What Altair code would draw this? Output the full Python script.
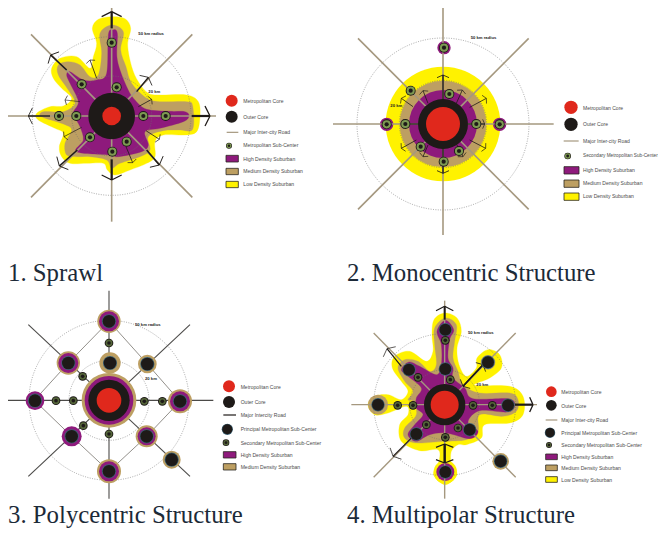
import math
import altair as alt
import pandas as pd

# All geometry in 3x crop units, one origin per panel
ORIG = {1: (0, 0), 2: (333, 0), 3: (0, 268), 4: (333, 268)}
ROAD = "#a5987f"; DARK = "#1e1a18"; RED = "#e0281c"; PURPLE = "#8e1a7c"; TAN = "#bd9f62"; YEL = "#fff200"
GREEN = "#7d9a52"; OLIVE = "#55663a"; GREYROAD = "#4b4a48"; BLUE = "#3d6478"

blob_yellow_1 = [(295,58),(335,50),(375,56),(392,85),(383,135),(395,200),(415,245),(445,280),(480,285),(560,285),(595,305),(600,350),(590,395),(555,405),(490,405),(465,425),(465,470),(440,490),(390,510),(345,525),(322,510),(310,490),(260,490),(210,490),(185,470),(178,440),(190,400),(165,385),(115,360),(110,340),(150,320),(190,318),(215,295),(185,265),(160,235),(155,205),(180,175),(230,170),(270,205),(280,170),(290,130),(277,85)]
blob_tan_1 = [(300,100),(335,75),(370,95),(362,150),(378,200),(395,250),(440,295),(480,305),(560,305),(578,318),(578,388),(540,390),(490,392),(445,410),(450,450),(420,470),(360,490),(335,505),(320,480),(270,470),(230,470),(200,465),(195,430),(215,390),(190,372),(125,350),(130,335),(190,335),(225,310),(205,270),(175,225),(175,195),(205,185),(240,195),(270,230),(295,225),(305,160)]
blob_purple_1 = [(325,105),(338,90),(352,100),(352,180),(380,260),(405,300),(440,328),(510,334),(555,335),(567,348),(550,365),(480,385),(435,395),(445,435),(425,455),(355,470),(330,465),(230,455),(250,420),(240,380),(220,340),(235,305),(210,250),(200,225),(210,215),(250,240),(290,240),(320,220)]
blob_yellow_4 = [(335,135),(372,150),(385,190),(372,240),(378,290),(400,325),(430,300),(432,270),(465,245),(500,260),(505,300),(470,330),(425,352),(530,355),(570,385),(570,440),(530,465),(455,470),(445,510),(400,530),(375,530),(355,550),(355,590),(372,620),(337,650),(302,620),(318,580),(315,545),(260,548),(205,520),(200,470),(225,440),(220,415),(165,435),(125,440),(105,410),(125,385),(165,380),(205,395),(225,370),(205,340),(178,300),(185,265),(230,250),(280,280),(300,250),(297,200),(303,155)]
blob_tan_4 = [(337,150),(370,170),(365,220),(360,270),(375,310),(390,350),(440,375),(530,375),(555,395),(550,430),(510,445),(440,440),(435,490),(400,515),(330,520),(250,525),(215,510),(215,480),(250,440),(240,400),(225,395),(240,370),(215,340),(195,300),(215,275),(255,280),(290,310),(310,290),(305,230),(305,180)]
blob_purple_4 = [(337,157),(362,185),(350,215),(345,270),(360,300),(360,330),(395,360),(420,392),(525,392),(545,410),(525,432),(440,428),(405,462),(435,490),(410,512),(340,495),(290,500),(250,520),(225,500),(245,470),(270,440),(250,420),(250,390),(265,360),(225,325),(205,305),(228,282),(260,295),(310,320),(325,290),(325,230),(312,190)]

# panel, x, y, diameter (crop units), colour: discs beneath the roads
under_discs = [
 (2,330,372,344,YEL),(2,330,372,260,TAN),(2,330,372,204,PURPLE),
 (2,333,143,40,PURPLE),(2,161,373,40,PURPLE),(2,500,373,40,PURPLE),
 (4,135,410,60,TAN),(4,465,283,44,TAN),(4,503,580,50,TAN),(4,337,612,70,YEL),(4,337,612,54,PURPLE),
]

roads_1 = [(335,20,335,665),(20,348,648,348),(93,103,577,592),(577,103,93,592)]
roads_2 = [(330,20,330,705),(0,372,662,372),(75,115,587,628),(587,115,75,628)]
roads_3 = [(327,68,327,692),(13,397,640,397),(85,170,570,625),(570,170,85,625)]
roads_4 = [(335,98,335,692),(55,410,612,410),(122,195,548,628),(548,195,122,628)]
links_3 = [(327,160,205,285),(205,285,103,397),(103,397,215,505),(215,505,327,610),(327,610,440,505),(440,505,540,400),(540,400,442,288),(442,288,327,160)]

# panel, cx, cy, diameter
rings = [(1,335,348,476),(1,335,348,240),(2,330,372,516),(2,330,372,262),(3,327,397,480),(3,327,397,240),(4,335,410,426),(4,335,410,210)]

# panel, x1, y1, x2, y2, shaft width px, head half width, head back
arrows = [
 (1,335,85,335,35,2.2,30,15),(1,575,348,630,348,2.2,30,15),(1,150,348,85,348,1.4,24,12),(1,335,478,335,540,2.2,30,15),
 (1,200,210,152,165,1.6,24,12),(1,232,450,178,498,1.6,26,13),(1,440,450,478,495,1.6,26,13),(1,410,275,445,232,1.4,24,12),
 (1,290,235,270,180,.8,14,6),(1,240,305,195,300,.6,14,6),(1,415,320,455,298,.8,14,6),(1,245,382,192,410,.7,14,6),(1,438,392,478,418,.8,14,6),(1,378,440,398,488,.8,14,6),
 (2,330,300,330,225,1.4,18,8),(2,405,372,455,372,1.2,14,6),(2,330,445,330,520,1.4,18,8),(2,275,372,205,372,1.2,14,6),
 (2,240,320,205,295,.8,14,7),(2,285,310,270,272,.8,14,7),(2,370,310,388,270,.8,14,7),(2,410,322,460,295,.8,14,7),(2,410,420,458,445,.8,14,7),(2,250,420,205,445,.8,14,7),(2,285,435,270,470,.8,14,7),(2,372,435,390,470,.8,14,7),
 (4,335,155,335,115,2,26,13),(4,390,355,450,290,1.4,20,10),(4,450,290,390,355,1.4,20,10),(4,545,410,600,410,2.2,22,10),(4,240,505,180,565,1.2,24,12),(4,335,585,335,528,2,26,10),(4,335,528,335,585,2,26,10),(4,205,295,162,242,1.2,24,12),
]

core_1 = [(335,348,140,DARK),(335,348,56,RED)]
sub_1 = [(335,128),(350,262),(245,253),(177,348),(229,348),(430,348),(497,348),(270,412),(337,455),(380,425)]
core_2 = [(330,372,150,DARK),(330,372,102,RED)]
sub_2 = [(333,143),(161,373),(500,373),(233,272),(349,282),(217,372),(430,372),(263,440),(378,453),(332,485)]
core_3 = [(327,397,164,TAN),(327,397,146,PURPLE),(327,397,124,DARK),(327,397,74,RED)]
# x, y, tan diameter, purple diameter (0 = none)
prin_3 = [(327,160,70,60),(205,285,70,60),(105,398,0,56),(215,505,0,60),(327,610,72,60),(440,505,66,54),(540,400,72,60),(330,285,64,0),(442,288,56,0),(515,575,54,0)]
sec_3 = [(327,225),(248,325),(168,398),(220,398),(433,400),(487,400),(250,473),(327,498)]
core_4 = [(335,410,124,DARK),(335,410,84,RED)]
prin_4 = [(337,185),(228,305),(337,303),(135,410),(525,412),(250,498),(410,485),(337,612),(465,283),(503,580)]
sec_4 = [(337,217),(255,328),(352,335),(194,412),(240,412),(420,412),(478,412),(280,470),(375,480),(337,508)]

leg_disc = [(1,695,302,36,RED),(1,695,350,36,DARK),(2,714,322,40,RED),(2,714,373,40,DARK),(3,687,355,36,RED),(3,687,402,36,DARK),(4,655,371,32,RED),(4,655,412,32,DARK)]
leg_road = [(1,680,397,715,ROAD),(2,692,423,737,ROAD),(3,670,441,708,DARK),(4,638,456,673,ROAD)]
leg_sub = [(1,687,437,18),(2,704,468,20)]
leg_prin = [(3,682,484,30),(4,651,494,28)]
leg_sec = [(3,678,524,20),(4,648,531,18)]
# panel, x1, x2, y1, y2, colour
leg_swatch = [
 (1,678,715,466,486,PURPLE),(1,678,715,505,524,TAN),(1,678,715,544,563,YEL),
 (2,693,738,500,522,PURPLE),(2,693,738,540,562,TAN),(2,693,738,579,601,YEL),
 (3,670,708,551,570,PURPLE),(3,670,708,587,606,TAN),
 (4,638,673,558,575,PURPLE),(4,638,673,591,608,TAN),(4,638,673,626,643,YEL),
]
legend_names_1 = ["Metropolitan Core","Outer Core","Major Inter-city Road","Metropolitan Sub-Center","High Density Suburban","Medium Density Suburban","Low Density Suburban"]
legend_y_1 = [303,350,397,436,476,514,553]
legend_names_2 = ["Metropolitan Core","Outer Core","Major Inter-city Road","Secondary Metropolitan Sub-Center","High Density Suburban","Medium Density Suburban","Low Density Suburban"]
legend_y_2 = [323,373,424,467,510,549,589]
legend_names_3 = ["Metropolitan Core","Outer Core","Major Intercity Road","Principal Metropolitan Sub-Center","Secondary Metropolitan Sub-Center","High Density Suburban","Medium Density Suburban"]
legend_y_3 = [356,402,442,484,524,561,596]
legend_names_4 = ["Metropolitan Core","Outer Core","Major Inter-city Road","Principal Metropolitan Sub-Center","Secondary Metropolitan Sub-Center","High Density Suburban","Medium Density Suburban","Low Density Suburban"]
legend_y_4 = [373,413,456,495,532,567,599,635]
legend_x = {1:730,2:750,3:722,4:685}
radius_labels = [(1,"50 km radius",415,103),(1,"20 km",445,275),(2,"50 km radius",413,114),(2,"20 km",172,318),(3,"50 km radius",405,170),(3,"20 km",435,332),(4,"50 km radius",405,196),(4,"20 km",430,350)]
titles = [("1. Sprawl",8,281),("2. Monocentric Structure",347,281),("3. Polycentric Structure",8,522.5),("4. Multipolar Structure",347,522.5)]

def X(p, v): return ORIG[p][0] + v / 3
def Y(p, v): return ORIG[p][1] + v / 3

X_S = alt.Scale(domain=[8, 658], nice=False, zero=False)
Y_S = alt.Scale(domain=[528, 8], nice=False, zero=False)
xq = lambda f="x": alt.X(f"{f}:Q", scale=X_S, axis=None)
yq = lambda f="y": alt.Y(f"{f}:Q", scale=Y_S, axis=None)

def blob_layer(items, colour):
    rows = []
    for b, (p, pts) in enumerate(items):
        for i, (x, y) in enumerate(pts):
            rows.append({"x": X(p, x), "y": Y(p, y), "b": b, "i": i})
    return alt.Chart(pd.DataFrame(rows)).mark_line(interpolate="cardinal-closed", fill=colour, stroke=colour, strokeWidth=0.3).encode(
        x=xq(), y=yq(), detail="b:N", order="i:Q")

def disc_layer(rows):
    df = pd.DataFrame([{"x": X(p, x), "y": Y(p, y), "s": (d / 3) ** 2, "c": c, "i": i} for i, (p, x, y, d, c) in enumerate(rows)])
    return alt.Chart(df).mark_circle(opacity=1).encode(
        x=xq(), y=yq(), size=alt.Size("s:Q", scale=None, legend=None),
        color=alt.Color("c:N", scale=None, legend=None), order="i:Q")

def seg_layer(rows):
    df = pd.DataFrame([{"x": X(p, a), "y": Y(p, b), "x2": X(p, c), "y2": Y(p, d), "w": w, "c": col} for p, a, b, c, d, w, col in rows])
    return alt.Chart(df).mark_rule().encode(
        x=xq(), y=yq(), x2="x2:Q", y2="y2:Q",
        strokeWidth=alt.StrokeWidth("w:Q", scale=None, legend=None),
        color=alt.Color("c:N", scale=None, legend=None))

road_rows = []
for p, rr, col, w in [(1, roads_1, ROAD, 1.6), (2, roads_2, ROAD, 1.6), (3, roads_3, GREYROAD, 1.1), (4, roads_4, ROAD, 1.4)]:
    road_rows += [(p, *r, w, col) for r in rr]
road_rows += [(3, *r, 0.8, "#77736d") for r in links_3]

arrow_rows = []
for p, x1, y1, x2, y2, w, hw, hb in arrows:
    L = math.hypot(x2 - x1, y2 - y1); ux, uy = (x2 - x1) / L, (y2 - y1) / L
    arrow_rows.append((p, x1, y1, x2, y2, w, DARK))
    for s in (1, -1):
        arrow_rows.append((p, x2, y2, x2 - ux * hb - s * uy * hw, y2 - uy * hb + s * ux * hw, max(w * 0.6, 0.7), DARK))

top = []
def sub_marker(p, x, y, d=30):
    top.extend([(p, x, y, d, DARK), (p, x, y, d * .82, GREEN), (p, x, y, d * .42, DARK)])
def sec_marker(p, x, y, d=26):
    top.extend([(p, x, y, d, DARK), (p, x, y, d * .78, OLIVE), (p, x, y, d * .42, DARK)])
def prin_marker(p, x, y, d=38):
    top.extend([(p, x, y, d * 1.12, BLUE), (p, x, y, d, DARK)])

top += [(1, *c) for c in core_1] + [(2, *c) for c in core_2] + [(3, *c) for c in core_3] + [(4, *c) for c in core_4]
for x, y in sub_1: sub_marker(1, x, y)
for x, y in sub_2: sub_marker(2, x, y)
for x, y, t, pu in prin_3:
    if t: top.append((3, x, y, t, TAN))
    if pu: top.append((3, x, y, pu, PURPLE))
    prin_marker(3, x, y)
for x, y in sec_3: sec_marker(3, x, y)
for x, y in prin_4: prin_marker(4, x, y, 36)
for x, y in sec_4: sec_marker(4, x, y, 26)
top += leg_disc
for p, x, y, d in leg_sub: sub_marker(p, x, y, d)
for p, x, y, d in leg_prin: prin_marker(p, x, y, d)
for p, x, y, d in leg_sec: sec_marker(p, x, y, d)

ring_df = pd.DataFrame([{"x": X(p, x), "y": Y(p, y), "s": (d / 3) ** 2} for p, x, y, d in rings])
ring_layer = alt.Chart(ring_df).mark_point(filled=False, shape="circle", stroke="#6e6e6e", strokeWidth=0.6, strokeDash=[1, 1.4], opacity=1).encode(
    x=xq(), y=yq(), size=alt.Size("s:Q", scale=None, legend=None))

swatch_df = pd.DataFrame([{"x": X(p, a), "x2": X(p, b), "y": Y(p, c), "y2": Y(p, d), "c": col} for p, a, b, c, d, col in leg_swatch])
swatch_layer = alt.Chart(swatch_df).mark_rect(stroke="#2a2620", strokeWidth=0.8).encode(
    x=xq(), x2="x2:Q", y=yq(), y2="y2:Q", color=alt.Color("c:N", scale=None, legend=None))

legend_rows = []
for p, names, ys in [(1, legend_names_1, legend_y_1), (2, legend_names_2, legend_y_2), (3, legend_names_3, legend_y_3), (4, legend_names_4, legend_y_4)]:
    legend_rows += [{"x": X(p, legend_x[p]), "y": Y(p, y), "t": n, "fs": 4.7 if (p == 2 and n.startswith("Secondary")) else 5.05} for n, y in zip(names, ys)]
legend_text = alt.Chart(pd.DataFrame(legend_rows)).mark_text(align="left", baseline="middle", font="Liberation Sans", color="#4a4a4a").encode(
    x=xq(), y=yq(), text="t:N", size=alt.Size("fs:Q", scale=None, legend=None))
label_df = pd.DataFrame([{"x": X(p, x), "y": Y(p, y), "t": t} for p, t, x, y in radius_labels])
label_text = alt.Chart(label_df).mark_text(align="left", baseline="middle", font="Liberation Sans", fontSize=4.2, fontWeight="bold", color="#222222").encode(
    x=xq(), y=yq(), text="t:N")
title_text = alt.Chart(pd.DataFrame([{"x": x, "y": y, "t": t} for t, x, y in titles])).mark_text(
    align="left", baseline="alphabetic", font="Liberation Serif", fontSize=24.8, color="#1c2a38").encode(
    x=xq(), y=yq(), text="t:N")

chart = alt.layer(
    blob_layer([(1, blob_yellow_1), (4, blob_yellow_4)], YEL),
    blob_layer([(1, blob_tan_1), (4, blob_tan_4)], TAN),
    blob_layer([(1, blob_purple_1), (4, blob_purple_4)], PURPLE),
    disc_layer(under_discs),
    ring_layer,
    seg_layer(road_rows),
    seg_layer(arrow_rows),
    disc_layer(top),
    seg_layer([(p, a, y, b, y, 1.2, c) for p, a, y, b, c in leg_road]),
    swatch_layer,
    legend_text, label_text, title_text,
).properties(width=650, height=520, padding=0, autosize=alt.AutoSizeParams(type="none")).configure_view(stroke=None)

chart.save("out.html", embed_options={"renderer": "svg", "actions": False})
